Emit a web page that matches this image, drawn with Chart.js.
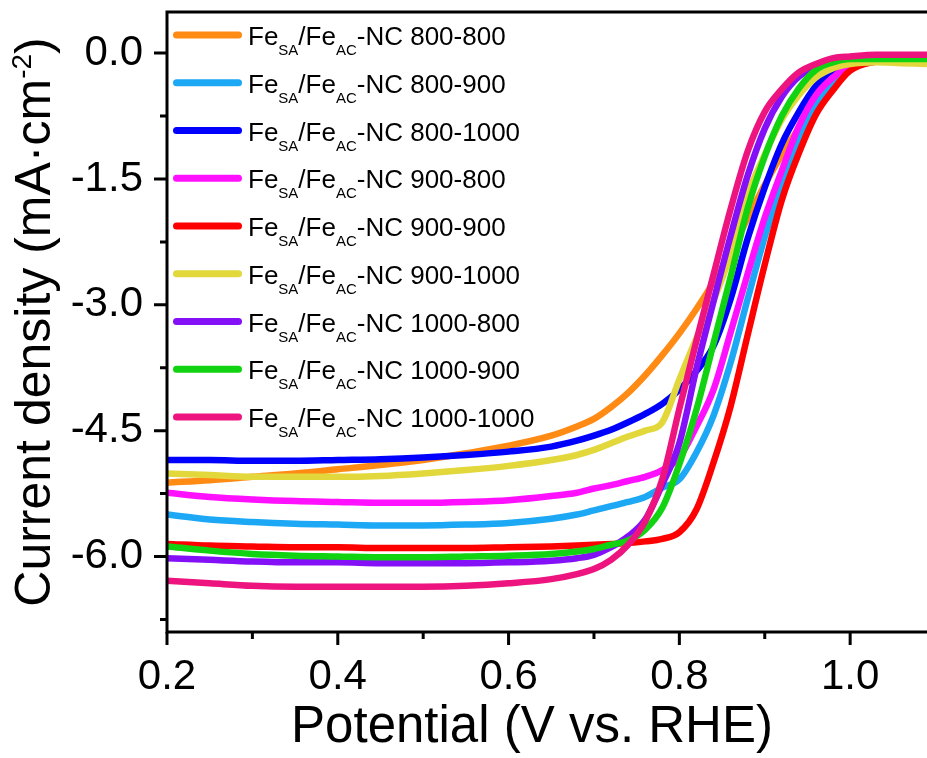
<!DOCTYPE html>
<html>
<head>
<meta charset="utf-8">
<title>LSV curves</title>
<script src="https://cdn.jsdelivr.net/npm/chart.js@4.4.1/dist/chart.umd.min.js"></script>
<style>
  html, body { margin: 0; padding: 0; background: #fff; }
  canvas { display: block; }
</style>
</head>
<body>
<canvas id="chart" width="927" height="758"></canvas>
<script>
const FONT = '"Liberation Sans", Arial, Helvetica, sans-serif';

// potential grid (V vs. RHE), shared by all curves
const potential = [0.20, 0.25, 0.30, 0.35, 0.40, 0.45, 0.50, 0.55, 0.60, 0.65,
                   0.68, 0.70, 0.72, 0.74, 0.76, 0.78, 0.80, 0.82, 0.84, 0.86,
                   0.88, 0.90, 0.92, 0.94, 0.96, 0.98, 1.00, 1.03, 1.06, 1.09];

// current density (mA cm^-2) for each pyrolysis pair
const j800_800 = [-5.12, -5.09, -5.05, -5.01, -4.96, -4.91, -4.85, -4.77, -4.68, -4.56,
                  -4.45, -4.36, -4.22, -4.05, -3.84, -3.60, -3.34, -3.05, -2.73, -2.37,
                  -1.97, -1.57, -1.21, -0.89, -0.60, -0.37, -0.20, -0.08, -0.05, -0.04];
const j800_900 = [-5.50, -5.56, -5.59, -5.61, -5.62, -5.63, -5.63, -5.62, -5.60, -5.55,
                  -5.50, -5.45, -5.40, -5.35, -5.29, -5.18, -5.08, -4.76, -4.32, -3.69,
                  -2.93, -2.19, -1.55, -1.00, -0.63, -0.35, -0.18, -0.10, -0.07, -0.07];
const j800_1000 = [-4.85, -4.85, -4.86, -4.86, -4.85, -4.84, -4.82, -4.79, -4.75, -4.69,
                   -4.62, -4.56, -4.49, -4.40, -4.30, -4.18, -4.01, -3.79, -3.49, -2.93,
                   -2.21, -1.60, -1.08, -0.70, -0.39, -0.20, -0.12, -0.08, -0.08, -0.08];
const j900_800 = [-5.24, -5.29, -5.32, -5.34, -5.35, -5.36, -5.36, -5.35, -5.33, -5.28,
                  -5.24, -5.19, -5.15, -5.10, -5.05, -4.97, -4.82, -4.45, -4.01, -3.33,
                  -2.63, -1.96, -1.40, -0.87, -0.50, -0.29, -0.15, -0.08, -0.07, -0.07];
const j900_900 = [-5.85, -5.87, -5.88, -5.89, -5.89, -5.90, -5.90, -5.90, -5.89, -5.88,
                  -5.87, -5.86, -5.85, -5.84, -5.82, -5.79, -5.71, -5.44, -4.88, -4.21,
                  -3.36, -2.52, -1.75, -1.19, -0.73, -0.44, -0.21, -0.10, -0.07, -0.06];
const j900_1000 = [-5.01, -5.03, -5.05, -5.05, -5.05, -5.04, -5.01, -4.97, -4.92, -4.85,
                   -4.79, -4.73, -4.65, -4.57, -4.50, -4.40, -3.89, -3.40, -2.95, -2.40,
                   -1.69, -1.21, -0.79, -0.50, -0.29, -0.18, -0.13, -0.11, -0.12, -0.13];
const j1000_800 = [-6.02, -6.04, -6.06, -6.07, -6.07, -6.08, -6.08, -6.08, -6.07, -6.05,
                   -6.02, -5.98, -5.89, -5.76, -5.56, -5.14, -4.65, -3.76, -2.96, -2.18,
                   -1.46, -0.90, -0.52, -0.28, -0.16, -0.09, -0.06, -0.05, -0.05, -0.05];
const j1000_900 = [-5.88, -5.93, -5.97, -5.99, -6.00, -6.01, -6.01, -6.00, -5.99, -5.97,
                   -5.94, -5.91, -5.86, -5.81, -5.68, -5.42, -4.90, -4.25, -3.46, -2.67,
                   -1.85, -1.23, -0.75, -0.42, -0.20, -0.11, -0.07, -0.07, -0.07, -0.07];
const j1000_1000 = [-6.29, -6.32, -6.35, -6.36, -6.36, -6.36, -6.36, -6.35, -6.32, -6.27,
                    -6.21, -6.15, -6.04, -5.86, -5.58, -5.08, -4.24, -3.43, -2.64, -1.86,
                    -1.17, -0.70, -0.43, -0.23, -0.13, -0.06, -0.04, -0.02, -0.02, -0.02];

const samples = ['800-800', '800-900', '800-1000', '900-800', '900-900',
                 '900-1000', '1000-800', '1000-900', '1000-1000'];
const currents = [j800_800, j800_900, j800_1000, j900_800, j900_900,
                  j900_1000, j1000_800, j1000_900, j1000_1000];
const colors = ['#ff8a14', '#1ca8f4', '#0000ff', '#ff10ff', '#ff0000',
                '#e2d83c', '#8410f8', '#12d312', '#ee1480'];

const xMajor = [0.2, 0.4, 0.6, 0.8, 1.0];
const xMinor = [0.3, 0.5, 0.7, 0.9];
const yMajor = [0.0, -1.5, -3.0, -4.5, -6.0];
const yMinor = [-0.75, -2.25, -3.75, -5.25, -6.75];

const datasets = samples.map((s, i) => ({
  label: 'FeSA/FeAC-NC ' + s,
  data: potential.map((p, k) => ({ x: p, y: currents[i][k] })),
  borderColor: colors[i],
  backgroundColor: colors[i],
  borderWidth: 6.5,
  pointRadius: 0,
  fill: false,
  cubicInterpolationMode: 'monotone',
  order: samples.length - 1 - i   // later samples on top
}));

// frame, outward tick marks, axis titles and the legend with subscripts
const decorations = {
  id: 'decorations',
  afterDraw(chart) {
    const { ctx, chartArea: a, scales: { x, y } } = chart;
    ctx.save();
    ctx.strokeStyle = '#000';
    ctx.lineWidth = 3;
    ctx.lineCap = 'butt';
    ctx.beginPath();
    ctx.moveTo(chart.width, a.top);
    ctx.lineTo(a.left, a.top);
    ctx.lineTo(a.left, a.bottom);
    ctx.lineTo(chart.width, a.bottom);
    ctx.stroke();

    ctx.beginPath();
    xMajor.forEach(v => { const px = x.getPixelForValue(v); ctx.moveTo(px, a.bottom); ctx.lineTo(px, a.bottom + 13); });
    xMinor.forEach(v => { const px = x.getPixelForValue(v); ctx.moveTo(px, a.bottom); ctx.lineTo(px, a.bottom + 7); });
    yMajor.forEach(v => { const py = y.getPixelForValue(v); ctx.moveTo(a.left, py); ctx.lineTo(a.left - 13, py); });
    yMinor.forEach(v => { const py = y.getPixelForValue(v); ctx.moveTo(a.left, py); ctx.lineTo(a.left - 7, py); });
    ctx.stroke();

    ctx.fillStyle = '#000';
    ctx.textBaseline = 'alphabetic';

    // x title
    ctx.font = '51px ' + FONT;
    ctx.textAlign = 'center';
    ctx.fillText('Potential (V vs. RHE)', 532, 742);

    // y title with superscript
    ctx.textAlign = 'left';
    const big = '50px ' + FONT, sup = '28px ' + FONT;
    const p1 = 'Current density (mA\u00b7cm', p2 = '-2', p3 = ')';
    ctx.font = big; const w1 = ctx.measureText(p1).width, w3 = ctx.measureText(p3).width;
    ctx.font = sup; const w2 = ctx.measureText(p2).width;
    const total = w1 + w2 + w3;
    ctx.save();
    ctx.translate(50, (a.top + a.bottom) / 2);
    ctx.rotate(-Math.PI / 2);
    let cx = -total / 2;
    ctx.font = big; ctx.fillText(p1, cx, 0); cx += w1;
    ctx.font = sup; ctx.fillText(p2, cx, -19); cx += w2;
    ctx.font = big; ctx.fillText(p3, cx, 0);
    ctx.restore();

    // legend
    const main = '26px ' + FONT, sub = '15px ' + FONT;
    samples.forEach((s, i) => {
      const ly = 35 + i * 47.75;
      ctx.strokeStyle = colors[i];
      ctx.lineWidth = 7;
      ctx.lineCap = 'round';
      ctx.beginPath();
      ctx.moveTo(176.5, ly);
      ctx.lineTo(238.5, ly);
      ctx.stroke();
      let tx = 248;
      const parts = [['Fe', main, 10], ['SA', sub, 20], ['/Fe', main, 10], ['AC', sub, 20], ['-NC ' + s, main, 10]];
      parts.forEach(([t, f, dy]) => {
        ctx.font = f;
        ctx.fillText(t, tx, ly + dy);
        tx += ctx.measureText(t).width;
      });
    });
    ctx.restore();
  }
};

new Chart(document.getElementById('chart'), {
  type: 'line',
  data: { datasets },
  options: {
    responsive: false,
    animation: false,
    events: [],
    layout: { padding: { top: 12, right: 0, bottom: 0, left: 0 } },
    plugins: { legend: { display: false }, tooltip: { enabled: false } },
    scales: {
      x: {
        type: 'linear',
        min: 0.2,
        max: 1.09,
        grid: { display: false, drawTicks: false },
        border: { display: false },
        afterFit: s => { s.height = 126; s.paddingLeft = 0; s.paddingRight = 0; },
        afterBuildTicks: s => { s.ticks = xMajor.map(v => ({ value: v })); },
        ticks: {
          autoSkip: false,
          maxRotation: 0,
          padding: 20,
          color: '#000',
          font: { family: FONT, size: 42 },
          callback: v => v.toFixed(1)
        }
      },
      y: {
        type: 'linear',
        min: -6.9,
        max: 0.49,
        grid: { display: false, drawTicks: false },
        border: { display: false },
        afterFit: s => { s.width = 167; s.paddingTop = 0; s.paddingBottom = 0; },
        afterBuildTicks: s => { s.ticks = yMajor.map(v => ({ value: v })); },
        ticks: {
          autoSkip: false,
          padding: 24,
          color: '#000',
          font: { family: FONT, size: 42 },
          callback: v => v.toFixed(1)
        }
      }
    }
  },
  plugins: [decorations]
});
</script>
</body>
</html>
